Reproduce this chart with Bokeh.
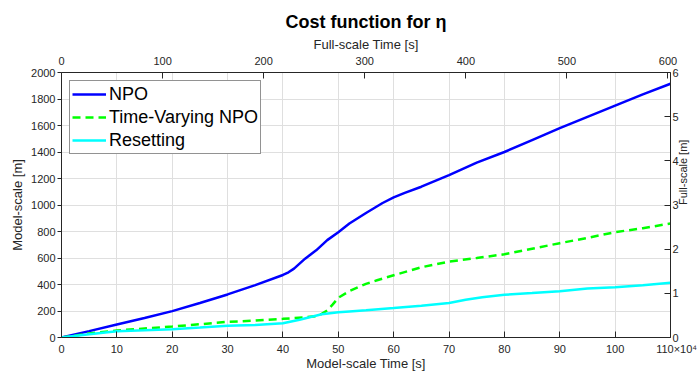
import math
from bokeh.plotting import figure
from bokeh.models import LinearAxis, Range1d, FixedTicker, Legend, LegendItem, Title
from bokeh.embed import file_html
from bokeh.resources import INLINE

# ---- data (model-scale time [s], model-scale cost [m]) ----
npo_t = [0, 5, 10, 15, 20, 25, 30, 35, 40, 41, 42, 44, 46, 48, 50, 52, 55, 58, 60, 62, 65, 70, 75, 80, 85, 90, 95, 100, 105, 110]
npo_v = [0, 48, 98, 147, 199, 260, 325, 395, 472, 492, 520, 595, 658, 735, 795, 860, 940, 1015, 1058, 1092, 1138, 1225, 1320, 1400, 1490, 1580, 1665, 1750, 1835, 1915]

tv_t = [0, 5, 10, 15, 20, 25, 30, 35, 40, 44, 46, 47, 48, 49, 50, 52, 55, 57, 60, 65, 70, 75, 80, 85, 90, 95, 100, 105, 110]
tv_v = [0, 30, 53, 68, 83, 100, 118, 128, 141, 152, 161, 178, 204, 250, 300, 350, 405, 432, 470, 530, 573, 600, 628, 670, 712, 752, 795, 825, 860]

rs_t = [0, 5, 10, 15, 20, 25, 30, 35, 40, 43, 45, 47, 50, 52, 55, 60, 65, 70, 73, 76, 80, 85, 90, 95, 100, 105, 110]
rs_v = [0, 25, 48, 55, 63, 75, 88, 95, 108, 134, 155, 175, 190, 196, 205, 222, 240, 260, 285, 304, 322, 335, 349, 370, 380, 395, 413]

bottom_ticks = [0, 10, 20, 30, 40, 50, 60, 70, 80, 90, 100, 110]
left_ticks = [0, 200, 400, 600, 800, 1000, 1200, 1400, 1600, 1800, 2000]
top_ticks = [0, 100, 200, 300, 400, 500, 600]
right_ticks = [0, 1, 2, 3, 4, 5, 6]

scale = 30.0  # Froude scale factor
FONT = "Liberation Sans"
DARK = "#262626"
NB = "\u00a0"

p = figure(width=697, height=373, x_range=Range1d(0, 110), y_range=Range1d(0, 2000),
           output_backend="svg", toolbar_location=None,
           min_border_left=61, min_border_right=27, min_border_top=72, min_border_bottom=36)
p.outline_line_color = None
p.background_fill_color = "white"
p.border_fill_color = "white"

bottom_axis = p.below[0]
left_axis = p.left[0]
bottom_axis.ticker = FixedTicker(ticks=bottom_ticks)
left_axis.ticker = FixedTicker(ticks=left_ticks)

p.extra_x_ranges = {"full_t": Range1d(0, 110 * math.sqrt(scale))}
p.extra_y_ranges = {"full_m": Range1d(0, 2000 * scale / 1e4)}

top_axis = LinearAxis(x_range_name="full_t", ticker=FixedTicker(ticks=top_ticks))
p.add_layout(top_axis, "above")
right_axis = LinearAxis(y_range_name="full_m", ticker=FixedTicker(ticks=right_ticks))
p.add_layout(right_axis, "right")

for ax in [bottom_axis, left_axis, top_axis, right_axis]:
    ax.axis_line_color = DARK
    ax.axis_line_width = 1
    ax.major_tick_line_color = DARK
    ax.minor_tick_line_color = None
    ax.major_label_text_font = FONT
    ax.major_label_text_font_size = "11px"
    ax.major_label_text_color = DARK
    ax.axis_label_text_font = FONT
    ax.axis_label_text_font_size = "13px"
    ax.axis_label_text_font_style = "normal"
    ax.axis_label_text_color = DARK

bottom_axis.major_tick_in = 6
bottom_axis.major_tick_out = 0
bottom_axis.major_label_standoff = 5
bottom_axis.axis_label = "Model-scale Time [s]"
bottom_axis.axis_label_standoff = -2
bottom_axis.major_label_overrides = {110: NB * 4 + "110×10⁴"}

top_axis.major_tick_in = 6
top_axis.major_tick_out = 0
top_axis.major_label_standoff = 8
top_axis.axis_label = "Full-scale Time [s]"
top_axis.axis_label_standoff = 2

left_axis.major_tick_in = 0
left_axis.major_tick_out = 4
left_axis.major_label_standoff = 2
left_axis.axis_label = "Model-scale [m]"
left_axis.axis_label_standoff = 3

right_axis.major_tick_in = 6
right_axis.major_tick_out = 0
right_axis.major_label_standoff = 2
right_axis.axis_label = "Full-scale [m]"
right_axis.axis_label_text_font_size = "11px"
right_axis.axis_label_standoff = 1
try:
    right_axis.axis_label_orientation = math.pi / 2
except Exception:
    pass

p.xgrid.grid_line_color = "#dfdfdf"
p.ygrid.grid_line_color = "#dfdfdf"
p.xgrid.ticker = FixedTicker(ticks=bottom_ticks)
p.ygrid.ticker = FixedTicker(ticks=left_ticks)

r1 = p.line(npo_t, npo_v, line_color="#0000ff", line_width=2.5)
r2 = p.line(tv_t, tv_v, line_color="#00ff00", line_width=2.5, line_dash="8 5")
r3 = p.line(rs_t, rs_v, line_color="#00ffff", line_width=2.5)

legend = Legend(items=[LegendItem(label="NPO", renderers=[r1]),
                       LegendItem(label="Time-Varying NPO", renderers=[r2]),
                       LegendItem(label="Resetting", renderers=[r3])],
                location="top_left", margin=8, padding=2, spacing=1,
                label_height=22, glyph_height=20, glyph_width=34, label_standoff=3,
                label_text_font=FONT, label_text_font_size="18px", label_text_color="black",
                border_line_color=DARK, border_line_width=1,
                background_fill_color="white", background_fill_alpha=1)
p.add_layout(legend)

title = Title(text="Cost function for η", text_font=FONT, text_font_size="18px",
              text_font_style="bold", text_color="black", align="center", standoff=4)
p.add_layout(title, "above")

open("out.html", "w").write(file_html(p, INLINE))
